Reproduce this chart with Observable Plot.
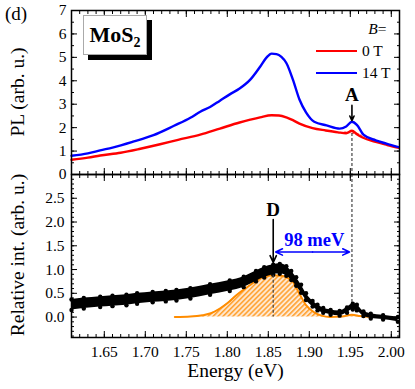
<!DOCTYPE html>
<html><head><meta charset="utf-8">
<script src="https://cdn.jsdelivr.net/npm/d3@7"></script>
<script src="https://cdn.jsdelivr.net/npm/@observablehq/plot@0.6"></script>
<style>
body{margin:0;background:#fff;}
#wrap{position:relative;width:415px;height:389px;font-family:"Liberation Serif","Times New Roman",serif;color:#000;overflow:hidden;}
#wrap svg{display:block;position:absolute;left:0;font-family:"Liberation Serif","Times New Roman",serif !important;font-size:15.5px;overflow:visible;background:transparent;}
#wrap svg text{font-family:"Liberation Serif","Times New Roman",serif !important;}
#panelLabel{position:absolute;left:5px;top:3px;font-size:19px;z-index:2;}
#mos2{position:absolute;left:83px;top:15px;width:64px;height:40px;box-sizing:border-box;border:1px solid #aaa;background:#fff;box-shadow:5px 5px 0 #000;font-weight:bold;font-size:22px;text-align:center;line-height:38px;z-index:2;}
#mos2 sub{font-size:14px;vertical-align:-5px;line-height:0;}
#legend{position:absolute;left:316px;top:18px;font-size:15.5px;z-index:2;}
#legend .row{display:flex;align-items:center;height:22px;}
#legend .sw{width:41px;height:2px;margin-right:5px;}
.ylab{position:absolute;left:18px;transform:translate(-50%,-50%) rotate(-90deg);white-space:nowrap;font-size:19.5px;z-index:2;}
</style></head><body>
<div id="wrap">
  <div id="panelLabel">(d)</div>
  <div class="ylab" id="ylabTop" style="top:92px">PL (arb. u.)</div>
  <div class="ylab" id="ylabBot" style="top:255px">Relative int. (arb. u.)</div>
  <div id="mos2">MoS<sub>2</sub></div>
  <div id="legend">
    <div class="row" style="justify-content:flex-end;padding-right:4px"><i>B</i>=</div>
    <div class="row"><span class="sw" style="background:#ff0000"></span><span>0 T</span></div>
    <div class="row"><span class="sw" style="background:#0000ff"></span><span>14 T</span></div>
  </div>
</div>
<script>
// ---------- data ----------
// Top panel: PL at 14 T (blue)
const plEnergy14 = [1.610,1.630,1.645,1.660,1.685,1.710,1.735,1.755,1.767,1.779,1.791,1.803,1.815,1.828,1.840,1.848,1.854,1.860,1.866,1.872,1.880,1.888,1.896,1.906,1.921,1.937,1.945,1.952,1.958,1.966,1.981,1.994,2.009];
const pl14 =       [0.80, 0.90, 1.03, 1.15, 1.40, 1.68, 2.08, 2.42, 2.68, 2.88, 3.15, 3.42, 3.67, 4.05, 4.60, 5.00, 5.16, 5.14, 5.02, 4.76, 4.05, 3.20, 2.65, 2.25, 2.10, 1.96, 2.05, 2.25, 2.12, 1.70, 1.46, 1.32, 1.17];
// Top panel: PL at 0 T (red)
const plEnergy0 = [1.610,1.630,1.645,1.670,1.694,1.718,1.740,1.767,1.791,1.815,1.828,1.840,1.854,1.863,1.872,1.880,1.888,1.904,1.920,1.935,1.945,1.952,1.958,1.965,1.981,1.995,2.009];
const pl0 =       [0.63, 0.72, 0.81, 0.93, 1.10, 1.29, 1.48, 1.70, 1.96, 2.22, 2.34, 2.44, 2.53, 2.52, 2.44, 2.32, 2.17, 1.98, 1.88, 1.80, 1.76, 1.87, 1.72, 1.58, 1.39, 1.26, 1.14];
// Top panel: A-peak fit (red hatched)
const aFitEnergy = [1.932,1.940,1.946,1.952,1.958,1.965,1.974];
const aFitBase   = [1.80, 1.77, 1.75, 1.72, 1.68, 1.62, 1.52];
const aFitTop    = [1.80, 1.79, 1.83, 1.86, 1.78, 1.66, 1.52];

// Bottom panel: relative intensity band (black dots)
const relEnergy = [1.610,1.625,1.645,1.660,1.677,1.690,1.709,1.725,1.738,1.755,1.779,1.803,1.820,1.835,1.845,1.856,1.864,1.872,1.878,1.884,1.890,1.896,1.904,1.910,1.917,1.926,1.937,1.946,1.953,1.958,1.966,1.975,1.990,2.008];
const relLow  = [0.15,0.18,0.21,0.23,0.25,0.28,0.31,0.33,0.35,0.39,0.47,0.55,0.63,0.75,0.83,0.89,0.91,0.87,0.78,0.66,0.51,0.36,0.22,0.14,0.09,0.05,0.03,0.09,0.16,0.14,0.02,-0.03,-0.05,-0.10];
const relHigh = [0.37,0.40,0.43,0.45,0.47,0.50,0.53,0.55,0.57,0.61,0.69,0.77,0.85,0.97,1.05,1.10,1.12,1.07,0.97,0.84,0.68,0.50,0.34,0.26,0.19,0.15,0.13,0.20,0.28,0.26,0.12,0.07,0.04,0.00];
// Bottom panel: D-peak fit (orange hatched)
const dFitEnergy = [1.736,1.755,1.770,1.780,1.791,1.800,1.811,1.8275,1.8395,1.855,1.866,1.874,1.880,1.888,1.896,1.906,1.915,1.925,1.940,1.952,1.962,1.975];
const dFit       = [0.00, 0.01, 0.04, 0.08, 0.18, 0.29, 0.46, 0.67,  0.81,  0.88, 0.87, 0.82, 0.74, 0.49, 0.25, 0.10, 0.03, 0.00, 0.01, 0.05, 0.02, 0.00];

// annotations
const peakA = 1.952, peakD = 1.856;
const splitLabel = "98 meV";

// ticks
const xMajor = [1.65,1.70,1.75,1.80,1.85,1.90,1.95,2.00];
const xMinor = d3.range(161, 202).map(d => d / 100);
const yTopMajor = [0,1,2,3,4,5,6,7];
const yTopMinor = d3.range(0, 15).map(d => d / 2);
const yBotMajor = [0.0,0.5,1.0,1.5,2.0,2.5];
const yBotMinor = d3.range(-4, 31).map(d => d / 10);

// ---------- helpers ----------
function frameTicks(xMin, xMaj, yMin, yMaj) {
  const o = {fill: "none", label: null, stroke: "black", strokeWidth: 1};
  return [
    Plot.axisX(xMin, {...o, anchor: "bottom", tickSize: -3}),
    Plot.axisX(xMaj, {...o, anchor: "bottom", tickSize: -6}),
    Plot.axisX(xMin, {...o, anchor: "top", tickSize: -3}),
    Plot.axisX(xMaj, {...o, anchor: "top", tickSize: -6}),
    Plot.axisY(yMin, {...o, anchor: "left", tickSize: -3}),
    Plot.axisY(yMaj, {...o, anchor: "left", tickSize: -6}),
    Plot.axisY(yMin, {...o, anchor: "right", tickSize: -3}),
    Plot.axisY(yMaj, {...o, anchor: "right", tickSize: -6})
  ];
}
function addHatch(svg, id, bg, fg) {
  const ns = "http://www.w3.org/2000/svg";
  const defs = document.createElementNS(ns, "defs");
  defs.innerHTML = `<pattern id="${id}" patternUnits="userSpaceOnUse" width="3.5" height="3.5" patternTransform="rotate(45)"><rect width="3.5" height="3.5" fill="${bg}"/><line x1="0.8" y1="0" x2="0.8" y2="3.5" stroke="${fg}" stroke-width="1.2"/></pattern>`;
  svg.insertBefore(defs, svg.firstChild);
}
const serif = '"Liberation Serif","Times New Roman",serif';
const baseStyle = {fontFamily: serif, fontSize: "15.5px", color: "black", background: "transparent", overflow: "visible"};

const top14 = plEnergy14.map((e, i) => ({e, v: pl14[i]}));
const top0 = plEnergy0.map((e, i) => ({e, v: pl0[i]}));
const aFit = aFitEnergy.map((e, i) => ({e, lo: aFitBase[i], hi: aFitTop[i]}));
const rel = relEnergy.map((e, i) => ({e, lo: relLow[i], hi: relHigh[i]}));
const dfit = dFitEnergy.map((e, i) => ({e, v: dFit[i]}));

// ---------- top panel ----------
const topPlot = Plot.plot({
  width: 415, height: 176,
  marginTop: 10, marginBottom: 2, marginLeft: 71, marginRight: 16,
  x: {domain: [1.61, 2.01]},
  y: {domain: [0, 7]},
  style: baseStyle,
  marks: [
    Plot.areaY(aFit, {x: "e", y1: "lo", y2: "hi", fill: "url(#hatchR)"}),
    Plot.ruleX([peakA], {y1: 1.75, y2: 0, stroke: "#444", strokeWidth: 1.2, strokeDasharray: "3,2"}),
    Plot.line(top0, {x: "e", y: "v", stroke: "#ff0000", strokeWidth: 2.4, curve: "monotone-x"}),
    Plot.line(top14, {x: "e", y: "v", stroke: "#0000ff", strokeWidth: 2.4, curve: "monotone-x"}),
    Plot.arrow([peakA], {x1: d => d, x2: d => d, y1: 2.95, y2: 2.3, stroke: "black", strokeWidth: 1.6, headLength: 7, headAngle: 50}),
    Plot.text(["A"], {x: peakA, y: 3.38, fontSize: 19, fontWeight: "bold", fontFamily: serif}),
    Plot.frame({stroke: "black", strokeWidth: 1.5}),
    ...frameTicks(xMinor, xMajor, yTopMinor, yTopMajor),
    Plot.axisY(yTopMajor, {anchor: "left", tickSize: 0, tickPadding: 5, label: null, tickFormat: d3.format("d"), fontFamily: serif})
  ]
});
addHatch(topPlot, "hatchR", "#ffdede", "#ff0000");
topPlot.style.top = "0px";
document.getElementById("wrap").prepend(topPlot);

// ---------- bottom panel ----------
const botPlot = Plot.plot({
  width: 415, height: 217,
  marginTop: 2, marginBottom: 52, marginLeft: 71, marginRight: 16,
  x: {domain: [1.61, 2.01]},
  y: {domain: [-0.43, 3.0]},
  style: baseStyle,
  marks: [
    Plot.areaY(dfit, {x: "e", y: "v", fill: "url(#hatchO)", curve: "monotone-x"}),
    Plot.line(dfit, {x: "e", y: "v", stroke: "#ff8c00", strokeWidth: 2, curve: "monotone-x"}),
    Plot.areaY(rel, {x: "e", y1: "lo", y2: "hi", fill: "black", curve: "monotone-x"}),
    Plot.dot(rel, {x: "e", y: "lo", r: 2.2, fill: "black"}),
    Plot.dot(rel, {x: "e", y: "hi", r: 2.2, fill: "black"}),
    Plot.ruleX([peakA], {y1: 3.0, y2: 0.3, stroke: "#444", strokeWidth: 1.2, strokeDasharray: "3,2"}),
    Plot.ruleX([peakD], {y1: 0.88, y2: 0, stroke: "#444", strokeWidth: 1.2, strokeDasharray: "3,2"}),
    Plot.arrow([peakD], {x1: d => d, x2: d => d, y1: 2.05, y2: 1.15, stroke: "black", strokeWidth: 1.6, headLength: 7, headAngle: 50}),
    Plot.text(["D"], {x: peakD, y: 2.26, fontSize: 19, fontWeight: "bold", fontFamily: serif}),
    Plot.arrow([peakD + 0.003, peakA - 0.003], {x1: (peakA + peakD) / 2, x2: d => d, y1: 1.37, y2: 1.37, stroke: "#0000ff", strokeWidth: 1.6, headLength: 7, headAngle: 50}),
    Plot.text([splitLabel], {x: (peakA + peakD) / 2 + 0.002, y: 1.62, fontSize: 18.5, fontWeight: "bold", fill: "#0000ff", fontFamily: serif}),
    Plot.frame({stroke: "black", strokeWidth: 1.5}),
    ...frameTicks(xMinor, xMajor, yBotMinor, yBotMajor),
    Plot.axisY(yBotMajor, {anchor: "left", tickSize: 0, tickPadding: 7, label: null, tickFormat: d3.format(".1f"), fontFamily: serif}),
    Plot.axisX(xMajor, {anchor: "bottom", tickSize: 0, tickPadding: 8, label: null, tickFormat: d3.format(".2f"), fontFamily: serif}),
    Plot.text(["Energy (eV)"], {frameAnchor: "bottom", dy: 39, fontSize: 19.5, fontFamily: serif})
  ]
});
addHatch(botPlot, "hatchO", "#ffe9d2", "#ff8c00");
botPlot.style.top = "172px";
document.getElementById("wrap").prepend(botPlot);
</script>
</body></html>
